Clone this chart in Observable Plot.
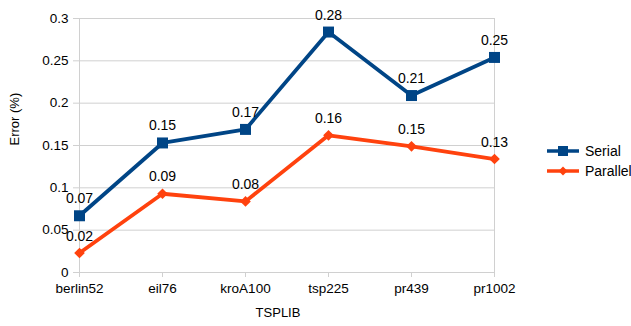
<!DOCTYPE html>
<html>
<head>
<meta charset="utf-8">
<script src="https://cdn.jsdelivr.net/npm/d3@7"></script>
<script src="https://cdn.jsdelivr.net/npm/@observablehq/plot@0.6"></script>
<style>
  body { margin: 0; background: #fff; font-family: "Liberation Sans", Arial, sans-serif; }
  #chart { position: relative; width: 631px; height: 326px; }
  .legend { position: absolute; left: 547px; top: 141px; font-size: 14px; color: #000; }
  .legend .item { display: flex; align-items: center; height: 20px; }
  .legend svg { margin-right: 6px; }
</style>
</head>
<body>
<div id="chart"></div>
<script>
// TSPLIB instances and the error of each solver
const instances = ["berlin52", "eil76", "kroA100", "tsp225", "pr439", "pr1002"];
const serialError = [0.067, 0.153, 0.169, 0.284, 0.209, 0.254];
const parallelError = [0.023, 0.093, 0.084, 0.162, 0.149, 0.134];
const seriesNames = ["Serial", "Parallel"];
const seriesColors = ["#004586", "#ff420e"];
const seriesSymbols = ["square", "diamond2"];
const yTicks = [0, 0.05, 0.1, 0.15, 0.2, 0.25, 0.3];

const serialRows = instances.map((instance, i) => ({instance, series: "Serial", error: serialError[i]}));
const parallelRows = instances.map((instance, i) => ({instance, series: "Parallel", error: parallelError[i]}));
const rows = [...serialRows, ...parallelRows];

const gray = "#d0d0d0";
const fmtLabel = d3.format(".2f");

const plot = Plot.plot({
  width: 631,
  height: 326,
  marginLeft: 79,
  marginRight: 137,
  marginTop: 18,
  marginBottom: 54,
  style: {fontFamily: "'Liberation Sans', Arial, sans-serif", fontSize: "13.5px", color: "#000", background: "#fff", overflow: "visible"},
  x: {type: "point", domain: instances, padding: 0, label: null},
  y: {domain: [0, 0.3], label: null},
  color: {domain: seriesNames, range: seriesColors},
  symbol: {domain: seriesNames, range: seriesSymbols},
  marks: [
    Plot.gridY(yTicks, {stroke: gray, strokeOpacity: 1}),
    Plot.ruleX([instances[0], instances[instances.length - 1]], {stroke: gray, strokeOpacity: 1}),
    Plot.axisY(yTicks, {tickSize: 6, tickPadding: 5, stroke: gray, fill: "#000", label: null,
      tickFormat: d => String(+d.toFixed(2))}),
    Plot.axisX({tickSize: 5, tickPadding: 6, stroke: gray, fill: "#000", label: null}),
    Plot.text(["Error (%)"], {frameAnchor: "left", dx: -65, rotate: -90, fill: "#000", fontSize: 13}),
    Plot.text(["TSPLIB"], {frameAnchor: "bottom", dx: -9, dy: 44, fill: "#000", fontSize: 13}),
    Plot.line(rows, {x: "instance", y: "error", z: "series", stroke: "series", strokeWidth: 3.8}),
    Plot.dot(serialRows, {x: "instance", y: "error", fill: "series", symbol: "series", r: 6.2}),
    Plot.dot(parallelRows, {x: "instance", y: "error", fill: "series", symbol: "series", r: 4.8}),
    Plot.text(rows, {x: "instance", y: "error", text: d => fmtLabel(d.error), dy: -17, fill: "#000", fontSize: 14})
  ]
});

const chart = document.getElementById("chart");
chart.appendChild(plot);

// Legend drawn beside the plot
const legend = document.createElement("div");
legend.className = "legend";
seriesNames.forEach((name, i) => {
  const item = document.createElement("div");
  item.className = "item";
  const marker = seriesSymbols[i] === "square"
    ? `<rect x="11" y="1" width="10" height="10" fill="${seriesColors[i]}"/>`
    : `<path d="M16,1.5L20.5,6L16,10.5L11.5,6Z" fill="${seriesColors[i]}"/>`;
  item.innerHTML = `<svg width="32" height="12"><line x1="0" x2="32" y1="6" y2="6" stroke="${seriesColors[i]}" stroke-width="3.5"/>${marker}</svg><span>${name}</span>`;
  legend.appendChild(item);
});
chart.appendChild(legend);
</script>
</body>
</html>
